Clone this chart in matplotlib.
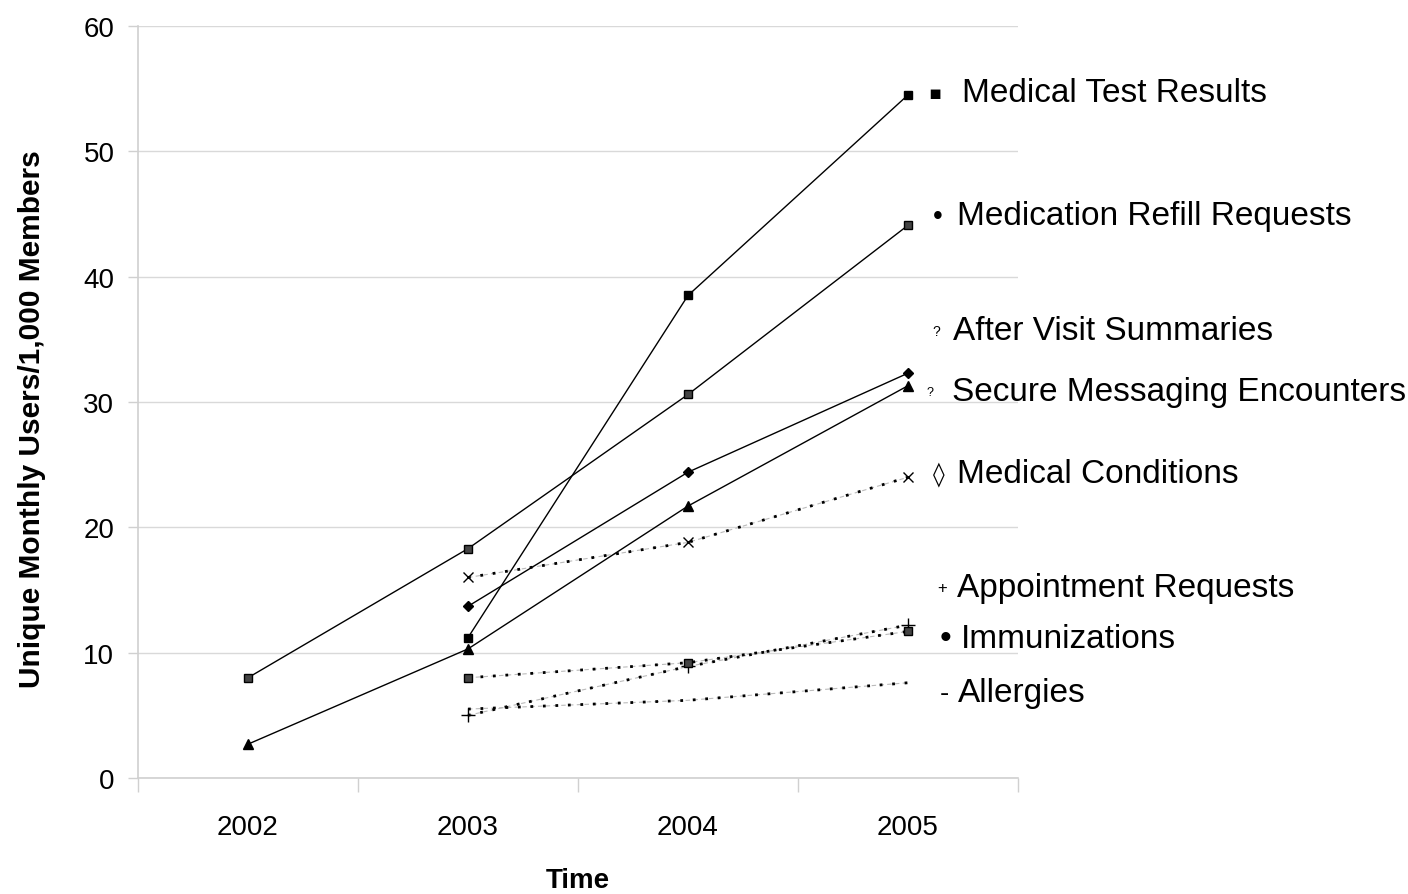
import matplotlib
matplotlib.use("Agg")
import matplotlib.pyplot as plt

plt.rcParams['font.family'] = ['Liberation Sans', 'DejaVu Sans']

# categories
years = ['2002', '2003', '2004', '2005']

# series values (None = no data that year)
test_results = [None, 11.2, 38.5, 54.5]
refill_requests = [8.0, 18.3, 30.6, 44.1]
visit_summaries = [None, 13.7, 24.4, 32.3]
secure_messaging = [2.7, 10.3, 21.7, 31.3]
medical_conditions = [None, 16.0, 18.8, 24.0]
appointment_requests = [None, 5.0, 8.9, 12.2]
immunizations = [None, 8.0, 9.2, 11.7]
allergies = [None, 5.5, 6.2, 7.6]

# right-hand labels
label_names = ['Medical Test Results', 'Medication Refill Requests',
               'After Visit Summaries', 'Secure Messaging Encounters',
               'Medical Conditions', 'Appointment Requests',
               'Immunizations', 'Allergies']
label_symbols = ['\u25aa', '\u2022', '?', '?', '\u25ca', '+', '\u2022', '-']
label_y = [54.7, 44.85, 35.7, 30.8, 24.3, 15.2, 11.1, 6.8]
# horizontal layout (x in category units)
sym_x = [3.12, 3.135, 3.13, 3.10, 3.14, 3.155, 3.17, 3.165]
sym_size = [14, 20, 10, 9, 17, 12, 24, 20]
text_x = [3.245, 3.222, 3.205, 3.20, 3.222, 3.222, 3.24, 3.227]


def pts(vals):
    xs = [i for i, v in enumerate(vals) if v is not None]
    ys = [v for v in vals if v is not None]
    return xs, ys


fig = plt.figure(figsize=(14.08, 8.95), dpi=100)
ax = fig.add_axes([0.098, 0.1296, 0.625, 0.8402])

# solid series
for vals, mk, ms, mfc in [(test_results, 's', 6, 'black'),
                          (refill_requests, 's', 6, '#444444'),
                          (visit_summaries, 'D', 5.5, 'black'),
                          (secure_messaging, '^', 7, 'black')]:
    x, y = pts(vals)
    ax.plot(x, y, color='black', lw=1.0, marker=mk, ms=ms, mfc=mfc,
            mec='black', zorder=3)

# dotted series: faint grey dash underneath + black dots
for vals, mk, ms in [(medical_conditions, 'x', 7),
                     (appointment_requests, '+', 10),
                     (immunizations, 's', 6),
                     (allergies, None, 0)]:
    x, y = pts(vals)
    ax.plot(x, y, color='#bbbbbb', lw=0.8, ls=(0, (4, 3)), zorder=2)
    ax.plot(x, y, color='black', lw=2.0, ls=(0, (1, 3.5)), zorder=3)
    if mk:
        ax.plot(x, y, ls='none', marker=mk, ms=ms, color='black',
                mfc='#444444' if mk == 's' else 'black', mew=1.0, zorder=4)

ax.set_xlim(-0.5, 3.5)
ax.set_ylim(0, 60)
ax.set_yticks(range(0, 61, 10))
ax.yaxis.grid(True, color='#d9d9d9', lw=1)
ax.set_axisbelow(True)

ax.set_xticks([-0.5, 0.5, 1.5, 2.5, 3.5])
ax.set_xticklabels([])
ax.set_xticks(range(len(years)), minor=True)
ax.set_xticklabels(years, minor=True)
ax.tick_params(axis='x', which='major', length=10, color='#d0d0d0', width=1)
ax.tick_params(axis='x', which='minor', length=0, labelsize=20, pad=26)
ax.tick_params(axis='y', length=7, color='#d0d0d0', width=1, labelsize=20, pad=10)

for s in ['top', 'right']:
    ax.spines[s].set_visible(False)
for s in ['left', 'bottom']:
    ax.spines[s].set_color('#d0d0d0')
    ax.spines[s].set_linewidth(1.2)

ax.set_xlabel('Time', fontsize=20, fontweight='bold')
ax.xaxis.set_label_coords(0.5, -0.118)
ax.set_ylabel('Unique Monthly Users/1,000 Members', fontsize=21.5,
              fontweight='bold')
ax.yaxis.set_label_coords(-0.104, 0.478)

for name, sym, y, sx, ss, tx in zip(label_names, label_symbols, label_y,
                                    sym_x, sym_size, text_x):
    ax.text(sx, y, sym, fontsize=ss, ha='center', va='center', clip_on=False,
            family=['DejaVu Sans'] if sym in ('\u25aa', '\u25ca') else None)
    ax.text(tx, y, name, fontsize=24, ha='left', va='center', clip_on=False)

fig.savefig('out.png', dpi=100)
